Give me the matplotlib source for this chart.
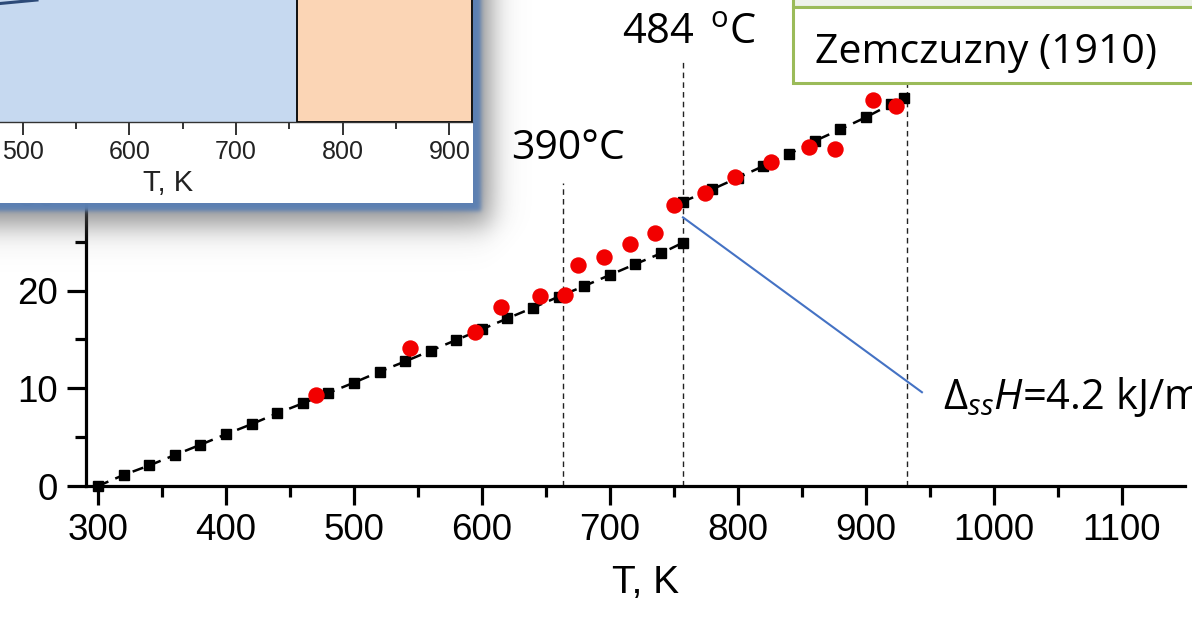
import numpy as np
import matplotlib
matplotlib.use("Agg")
import matplotlib.pyplot as plt
from matplotlib.patches import Rectangle
from matplotlib.ticker import MultipleLocator

plt.rcParams["font.family"] = ["Liberation Sans", "DejaVu Sans"]
plt.rcParams["mathtext.fontset"] = "custom"
plt.rcParams["mathtext.rm"] = "Open Sans"
plt.rcParams["mathtext.it"] = "Open Sans:italic"
plt.rcParams["mathtext.bf"] = "Open Sans:bold"

# Enthalpy increment H(T) - H(298 K), kJ/mol — low-temperature branch
T_low = [300, 320, 340, 360, 380, 400, 420, 440, 460, 480, 500, 520,
         540, 560, 580, 600, 620, 640, 660, 680, 700, 720, 740, 757]
H_low = [0.0, 1.13, 2.10, 3.17, 4.22, 5.30, 6.33, 7.44, 8.46, 9.52, 10.58, 11.70,
         12.75, 13.85, 14.95, 16.04, 17.16, 18.25, 19.38, 20.47, 21.60, 22.72, 23.82, 24.90]

# High-temperature branch (after the solid-solid transition)
T_high = [757, 780, 800, 820, 840, 860, 880, 900, 920, 930]
H_high = [29.10, 30.37, 31.55, 32.75, 33.98, 35.31, 36.50, 37.74, 39.10, 39.68]

# Zemczuzny (1910) measurements
T_zem = [470.3, 544.0, 594.5, 614.7, 645.2, 665.2, 675.3, 695.5, 715.6, 735.4,
         750.4, 774.2, 797.7, 825.8, 855.7, 875.8, 905.7, 924.0]
H_zem = [9.31, 14.13, 15.80, 18.33, 19.50, 19.60, 22.60, 23.40, 24.74, 25.86,
         28.76, 29.96, 31.60, 33.20, 34.73, 34.46, 39.50, 38.90]

# Transition temperatures (deg C) and melting point (K)
trans_C = [390, 484]
T_melt = 932
vline_top = [31.0, 43.7, 49.75]
dH_ss = 4.2

x_ticks = [300, 400, 500, 600, 700, 800, 900, 1000, 1100]
y_ticks = [0, 10, 20, 30, 40]
inset_ticks = [500, 600, 700, 800, 900]
inset_phase_T = 757
inset_right_T = 921.1

W, H = 1192, 620
fig = plt.figure(figsize=(W / 100, H / 100), dpi=100)

# ---------------- main chart ----------------
ax = fig.add_axes([86 / W, (H - 486) / H, (1185 - 86) / W, 486 / H], zorder=1)
ax.set_xlim(290.6, 1149.5)
ax.set_ylim(0, 49.75)

dash = (0, (4.5, 3))
for T, Hv in ((T_low, H_low), (T_high, H_high)):
    ax.plot(T, Hv, color="black", lw=1.8, ls=dash, marker="s", ms=7.6,
            mfc="black", mec="black", clip_on=False, zorder=3)
ax.plot(T_zem, H_zem, "o", color="#f20000", ms=11.8, mec="none",
        clip_on=False, zorder=4)

trans_K = [c + 273.15 for c in trans_C] + [T_melt]
for Tk, top in zip(trans_K, vline_top):
    ax.plot([Tk, Tk], [0, top], color="#222222", lw=1.0, ls=(0, (4, 3)),
            zorder=2, clip_on=False)

# leader from the transition jump to the enthalpy label
ax.plot([trans_K[1], 943.9], [27.5, 9.6], color="#4472C4", lw=1.5, zorder=2)

for s in ("top", "right"):
    ax.spines[s].set_visible(False)
for s in ("left", "bottom"):
    ax.spines[s].set_linewidth(2.3)
ax.set_xticks(x_ticks)
ax.set_yticks(y_ticks)
ax.xaxis.set_minor_locator(MultipleLocator(50))
ax.yaxis.set_minor_locator(MultipleLocator(5))
ax.tick_params(which="major", direction="out", length=13.5, width=2.3,
               labelsize=26.5)
ax.tick_params(which="minor", direction="out", length=8, width=2.3)
ax.tick_params(axis="x", which="major", pad=6)
ax.tick_params(axis="y", which="major", pad=7)
ax.set_xlabel("T, K", fontsize=28)
ax.xaxis.set_label_coords((646 - 86) / (1185 - 86), -(565 - 486) / 486)

# ---------------- overlay (shadow, frames, slide text) ----------------
ov = fig.add_axes([0, 0, 1, 1], zorder=2)
ov.patch.set_alpha(0)
ov.axis("off")

X, Y = np.meshgrid(np.arange(W) + 0.5, np.arange(H) + 0.5)


def soft(d, w):
    return 1.0 / (1.0 + np.exp(-d / w))


a_sh = 0.7 * soft(491 - X, 8.0) * soft(225 - Y, 9.0)
a_bd = soft(481 - X, 1.3) * soft(211 - Y, 1.3)
blue = np.array([0.36, 0.50, 0.70])
gray = np.array([0.38, 0.38, 0.38])
alpha = a_bd + a_sh * (1 - a_bd)
rgb = (blue * a_bd[..., None] + gray * (a_sh * (1 - a_bd))[..., None]) / \
    np.maximum(alpha, 1e-6)[..., None]
ov.imshow(np.dstack([rgb, alpha]), extent=(0, W, H, 0), interpolation="bilinear",
          aspect="auto", zorder=1)
ov.add_patch(Rectangle((0, 0), 472.7, 203.3, fc="white", ec="none", zorder=2))
ov.set_xlim(0, W)
ov.set_ylim(H, 0)

green = "#9BBB59"
ov.add_patch(Rectangle((793, -12), 430, 19, fc="#EEF2EA", ec=green, lw=2.2, zorder=3))
ov.add_patch(Rectangle((793, 7), 430, 76.3, fc="white", ec=green, lw=2.2, zorder=4))

slide_font = ["Open Sans", "DejaVu Sans"]
ov.text(815, 63, "Zemczuzny (1910)", fontsize=29.5, family=slide_font,
        va="baseline", ha="left", zorder=5)
ov.text(622, 44, r"484 $\,^{\mathrm{o}}$C", fontsize=30, family=slide_font,
        va="baseline", ha="left", zorder=5)
ov.text(511, 159, "390°C", fontsize=29.5, family=slide_font,
        va="baseline", ha="left", zorder=5)
ov.text(943, 409, r"$\Delta_{ss}H$=" + f"{dH_ss} kJ/mol", fontsize=30,
        family=slide_font, va="baseline", ha="left", zorder=5)

# ---------------- inset phase picture ----------------
ins = fig.add_axes([0, (H - 121.7) / H, 472 / W, 121.7 / H], zorder=3)
ins.set_xlim(478.7, inset_right_T)
ins.set_ylim(0, 1)
ins.axvspan(400, inset_phase_T, color="#C6D9F0", lw=0)
ins.add_patch(Rectangle((inset_phase_T, 0), inset_right_T - inset_phase_T, 1.3,
                        fc="#FBD5B5", ec="black", lw=1.3, clip_on=False, zorder=2))
ins.plot([0, 37 / 472], [1 - 3.5 / 121.7, 1], transform=ins.transAxes,
         color="#2C4A78", lw=2.2, zorder=3)
for s in ("top", "left", "right"):
    ins.spines[s].set_visible(False)
ins.spines["bottom"].set_color("#333333")
ins.spines["bottom"].set_linewidth(1.0)
ins.set_yticks([])
ins.set_xticks(inset_ticks)
ins.xaxis.set_minor_locator(MultipleLocator(50))
ins.tick_params(which="major", direction="out", length=9.4, width=1.3,
                color="#222222", labelsize=18, labelcolor="#222222", pad=4)
ins.tick_params(which="minor", direction="out", length=5, width=1.3,
                color="#222222")
ins.set_xlabel("T, K", fontsize=21, color="#222222")
ins.xaxis.set_label_coords(168 / 472, -(169 - 121.7) / 121.7)

fig.savefig("out.png", dpi=100)
